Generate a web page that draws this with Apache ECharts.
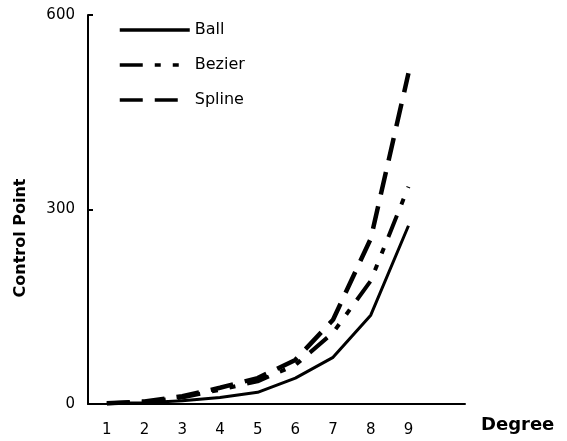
<!DOCTYPE html>
<html>
<head>
<meta charset="utf-8">
<script src="https://cdn.jsdelivr.net/npm/echarts@6/dist/echarts.min.js"></script>
<style>html,body{margin:0;padding:0;background:#fff;}#c{width:567px;height:441px;}</style>
</head>
<body>
<div id="c"></div>
<script>
var degrees = ['1','2','3','4','5','6','7','8','9',''];
var ball    = [1, 2, 5, 10, 18, 40, 72, 137, 275];
var bezier  = [1, 3, 10, 22, 35, 60, 110, 190, 335];
var spline  = [1, 4, 12, 25, 40, 68, 130, 255, 510];
var yTicks  = [0, 300, 600];

var chart = echarts.init(document.getElementById('c'), null, {renderer: 'canvas'});
var font = 'DejaVu Sans';
chart.setOption({
  backgroundColor: '#fff',
  animation: false,
  grid: {left: 88, right: 102, top: 15, bottom: 37},
  legend: {
    orient: 'vertical',
    left: 113,
    top: 17,
    padding: 5,
    itemWidth: 70,
    itemHeight: 14,
    itemGap: 19,
    itemStyle: {opacity: 0},
    lineStyle: {width: 3.5},
    textStyle: {fontFamily: font, fontSize: 16, color: '#000'},
    data: ['Ball', 'Bezier', 'Spline']
  },
  xAxis: {
    type: 'category',
    data: degrees,
    boundaryGap: true,
    axisLine: {lineStyle: {color: '#000', width: 2}},
    axisTick: {show: false},
    axisLabel: {color: '#000', fontFamily: font, fontSize: 15, margin: 19},
    splitLine: {show: false}
  },
  yAxis: {
    type: 'value',
    min: yTicks[0],
    max: yTicks[yTicks.length - 1],
    interval: yTicks[1] - yTicks[0],
    axisLine: {show: true, lineStyle: {color: '#000', width: 2}},
    axisTick: {show: true, inside: true, length: 5, lineStyle: {color: '#000', width: 2}},
    axisLabel: {color: '#000', fontFamily: font, fontSize: 15, margin: 13},
    splitLine: {show: false}
  },
  graphic: [
    {type: 'text', x: 481, y: 425, style: {text: 'Degree', font: 'bold 18px "DejaVu Sans"', fill: '#000', textVerticalAlign: 'middle'}},
    {type: 'text', x: 21, y: 238, rotation: Math.PI / 2, style: {text: 'Control Point', font: 'bold 16px "DejaVu Sans"', fill: '#000', textAlign: 'center', textVerticalAlign: 'middle'}}
  ],
  series: [
    {name: 'Ball', type: 'line', data: ball, symbol: 'none', lineStyle: {color: '#000', width: 3, type: 'solid'}, itemStyle: {color: '#000'}},
    {name: 'Bezier', type: 'line', data: bezier, symbol: 'none', lineStyle: {color: '#000', width: 4, type: [23, 12, 6, 12, 6, 12]}, itemStyle: {color: '#000'}},
    {name: 'Spline', type: 'line', data: spline, symbol: 'none', lineStyle: {color: '#000', width: 4.5, type: [23, 12]}, itemStyle: {color: '#000'}}
  ]
});
</script>
</body>
</html>
